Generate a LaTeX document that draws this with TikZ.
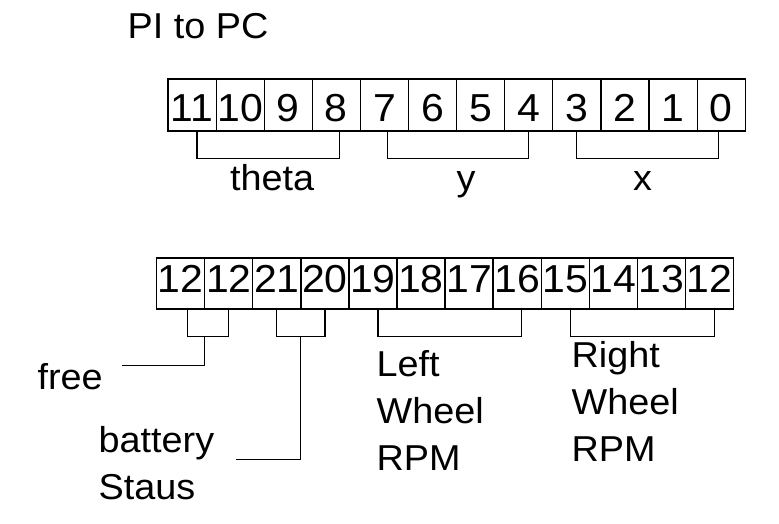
\documentclass[tikz,border=0pt]{standalone}
\usepackage{fontspec}
\setmainfont{Liberation Sans}[FakeStretch=1.05]

\begin{document}
\begin{tikzpicture}[x=1pt, y=-1pt, line width=1.2pt,
	bitbox/.style={draw, inner sep=0pt, minimum width=48.1pt, minimum height=52pt, text height=33pt, text depth=0pt, font=\fontsize{39}{47}\selectfont},
	bracket/.style={draw},
	lbl/.style={anchor=base west, align=left, inner sep=0pt, font=\fontsize{36}{47}\selectfont},
	under/.style={anchor=base, yshift=-32pt, inner sep=0pt, font=\fontsize{36}{47}\selectfont}]
	\useasboundingbox (0,0) rectangle (779,524);
	\node[lbl, font=\fontsize{36}{40}\selectfont] (title) at (127,39) {PI to PC};
	% PI to PC word
	\foreach \lab [count=\i from 0] in {11,10,9,8,7,6,5,4,3,2,1,0}
		\node[bitbox] (t\i) at (192.05+48.1*\i,105) {\lab};
	\draw[bracket] ([xshift=5pt]t0.south) -- ++(0,27) -| node[pos=0.25, under, xshift=4pt] (theta) {theta} ([xshift=3pt]t3.south);
	\draw[bracket] ([xshift=3pt]t4.south) -- ++(0,27) -| node[pos=0.25, under, xshift=8pt] (ypos) {y} (t7.south);
	\draw[bracket] (t8.south) -- ++(0,27) -| node[pos=0.25, under, xshift=-5pt] (xpos) {x} ([xshift=-3pt]t11.south);
	% second word
	\foreach \lab [count=\i from 0] in {12,12,21,20,19,18,17,16,15,14,13,12}
		\node[bitbox, minimum height=51pt, text height=17pt] (b\i) at (180.75+48.05*\i,283.5) {\lab};
	\draw[bracket] ([xshift=7pt]b0.south) -- ++(0,27) -| coordinate[pos=0.25] (freeMid) (b1.south);
	\draw[bracket] (b2.south) -- ++(0,27) -| coordinate[pos=0.25] (batMid) (b3.south);
	\draw[bracket] ([xshift=5pt]b4.south) -- ++(0,27) -| ([xshift=4pt]b7.south);
	\draw[bracket] ([xshift=5pt]b8.south) -- ++(0,27) -| ([xshift=5pt]b11.south);
	\coordinate (freeEnd) at (121.7,365.3);
	\coordinate (batEnd) at (236,459.3);
	\draw ([xshift=-4pt]freeMid) |- (freeEnd);
	\draw (batMid) |- (batEnd);
	% multi-line labels sit on their last baseline
	\node[lbl] (free) at (37,389) {free};
	\node[lbl] (battery) at (98,499) {battery\\Staus};
	\node[lbl] (leftRPM) at (376,470.7) {Left\\Wheel\\RPM};
	\node[lbl] (rightRPM) at (571,461.7) {Right\\Wheel\\RPM};
\end{tikzpicture}
\end{document}
